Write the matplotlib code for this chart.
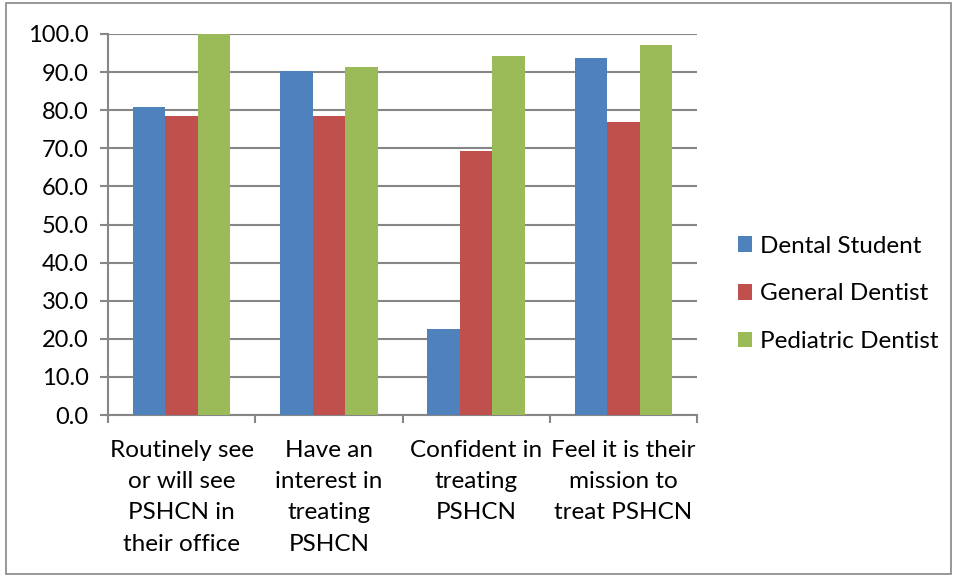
import matplotlib.pyplot as plt
import numpy as np
from matplotlib.patches import Rectangle

categories = ["Routinely see\nor will see\nPSHCN in\ntheir office",
              "Have an\ninterest in\ntreating\nPSHCN",
              "Confident in\ntreating\nPSHCN",
              "Feel it is their\nmission to\ntreat PSHCN"]
series_names = ["Dental Student", "General Dentist", "Pediatric Dentist"]
dental_student = [80.8, 90.3, 22.5, 93.6]
general_dentist = [78.6, 78.6, 69.2, 76.9]
pediatric_dentist = [100.0, 91.4, 94.3, 97.2]
yticks = [0, 10, 20, 30, 40, 50, 60, 70, 80, 90, 100]

colors = ["#4f81bd", "#c0504d", "#9bbb59"]
grey = "#868686"

plt.rcParams['font.family'] = ['Lato', 'DejaVu Sans']
fig = plt.figure(figsize=(9.57, 5.77), dpi=100)
ax = fig.add_axes([108 / 957, 1 - 415 / 577, 589 / 957, 381 / 577])

x = np.arange(len(categories))
w = 0.221
for i, vals in enumerate([dental_student, general_dentist, pediatric_dentist]):
    ax.bar(x + (i - 1) * w, vals, w, color=colors[i], label=series_names[i], zorder=3)

ax.set_xlim(-0.5, len(categories) - 0.5)
ax.set_ylim(0, 100)
ax.set_yticks(yticks)
ax.set_yticklabels(["%.1f" % t for t in yticks], fontsize=17)
ax.yaxis.grid(True, color=grey, linewidth=1.5, zorder=0)
ax.set_xticks(np.arange(-0.5, len(categories), 1.0))
ax.set_xticklabels([])
ax.set_xticks(x, minor=True)
ax.set_xticklabels(categories, minor=True, fontsize=17.5, linespacing=1.6)
ax.tick_params(axis='x', which='minor', length=0, pad=18)
ax.tick_params(axis='x', which='major', length=6, width=1.5, color=grey, direction='out')
ax.tick_params(axis='y', length=6, width=1.5, color=grey, pad=8)
for s in ['top', 'right']:
    ax.spines[s].set_visible(False)
for s in ['left', 'bottom']:
    ax.spines[s].set_color(grey)
    ax.spines[s].set_linewidth(1.5)

ax.legend(loc='center left', bbox_to_anchor=(728 / 957, 1 - 294 / 577), bbox_transform=fig.transFigure,
          frameon=False, fontsize=17.5, borderaxespad=0,
          handlelength=0.6, handleheight=0.6, labelspacing=1.1, handletextpad=0.3)

fig.patches.append(Rectangle((6 / 957, 3 / 577), 945 / 957, 571 / 577, transform=fig.transFigure,
                             fill=False, edgecolor=grey, linewidth=1.2))

fig.savefig("out.png", dpi=100)
